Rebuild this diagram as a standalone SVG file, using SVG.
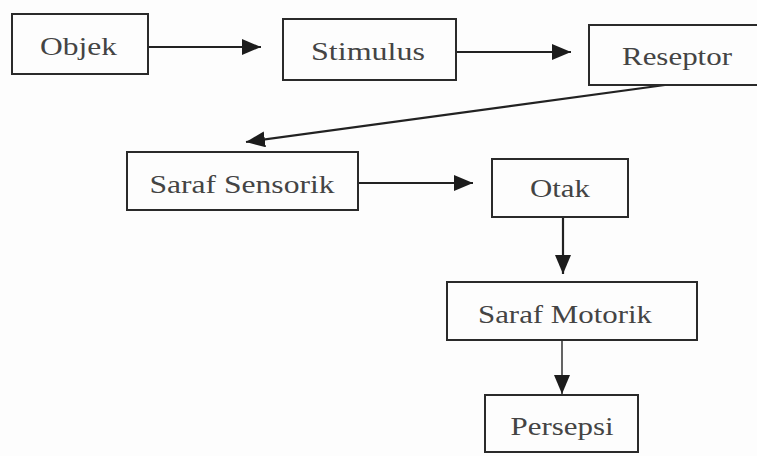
<svg xmlns="http://www.w3.org/2000/svg" width="757" height="456" viewBox="0 0 757 456">
<style>
.box{fill:none;stroke:#2a2a2a;stroke-width:2}
.lbl{font-family:'Liberation Serif','Times New Roman',serif;font-size:25px;fill:#444;text-anchor:middle}
.edge{stroke:#222;stroke-width:2.2;fill:none}
</style>
<defs>
<marker id="ah" markerUnits="userSpaceOnUse" markerWidth="20" markerHeight="18" refX="19" refY="8" orient="auto">
<path d="M0,0 L19,8 L0,16 Z" fill="#1c1c1c"/>
</marker>
</defs>
<rect width="757" height="456" fill="#fdfdfd"/>
<g id="connectors">
<line class="edge" x1="149" y1="47" x2="261" y2="47" marker-end="url(#ah)"/>
<line class="edge" x1="457" y1="52" x2="571" y2="52" marker-end="url(#ah)"/>
<line class="edge" x1="665" y1="85" x2="246" y2="142" marker-end="url(#ah)"/>
<line class="edge" x1="359" y1="183" x2="473" y2="183" marker-end="url(#ah)"/>
<line class="edge" x1="563" y1="218" x2="563" y2="274" marker-end="url(#ah)"/>
<line class="edge" x1="562" y1="341" x2="562" y2="394" marker-end="url(#ah)" style="stroke-width:1.4"/>
</g>
<g id="objek"><rect class="box" x="12" y="14" width="136" height="60"/><text class="lbl" x="78.5" y="55" textLength="77" lengthAdjust="spacingAndGlyphs">Objek</text></g>
<g id="stimulus"><rect class="box" x="283" y="19" width="173" height="61"/><text class="lbl" x="368" y="60" textLength="114" lengthAdjust="spacingAndGlyphs">Stimulus</text></g>
<g id="reseptor"><rect class="box" x="589" y="25" width="170" height="60"/><text class="lbl" x="677" y="65" textLength="110" lengthAdjust="spacingAndGlyphs">Reseptor</text></g>
<g id="saraf-sensorik"><rect class="box" x="127" y="152" width="231" height="58"/><text class="lbl" x="242" y="193" textLength="185" lengthAdjust="spacingAndGlyphs">Saraf Sensorik</text></g>
<g id="otak"><rect class="box" x="492" y="159" width="136" height="58"/><text class="lbl" x="560" y="197" textLength="60" lengthAdjust="spacingAndGlyphs">Otak</text></g>
<g id="saraf-motorik"><rect class="box" x="447" y="282" width="250" height="58"/><text class="lbl" x="565" y="323" textLength="174" lengthAdjust="spacingAndGlyphs">Saraf Motorik</text></g>
<g id="persepsi"><rect class="box" x="485" y="395" width="153" height="57"/><text class="lbl" x="562" y="435" textLength="103" lengthAdjust="spacingAndGlyphs">Persepsi</text></g>
</svg>
